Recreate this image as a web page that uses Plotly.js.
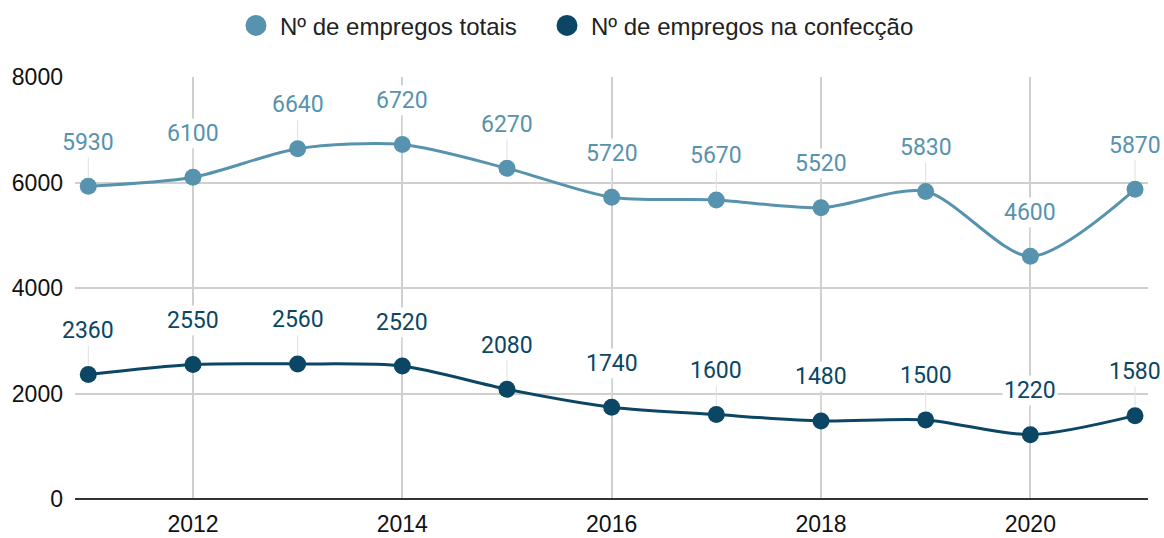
<!DOCTYPE html>
<html><head><meta charset="utf-8">
<script src="https://cdn.plot.ly/plotly-3.0.1.min.js"></script>
<style>html,body{margin:0;padding:0;background:#fff}#chart{width:1164px;height:538px}</style>
</head><body><div id="chart"></div>
<script>
const years = [2011,2012,2013,2014,2015,2016,2017,2018,2019,2020,2021];
const totalJobs = [5930,6100,6640,6720,6270,5720,5670,5520,5830,4600,5870];
const apparelJobs = [2360,2550,2560,2520,2080,1740,1600,1480,1500,1220,1580];
const seriesNames = ['Nº de empregos totais','Nº de empregos na confecção'];
const colors = ['#5793AE','#0B4664'];

const labelFont = 'Roboto, "Open Sans", sans-serif';
const axisFont = '"Liberation Sans", Arial, sans-serif';
const series = [totalJobs, apparelJobs];
const legendIds = ['legend','legend2'];
const data = [];
series.forEach((vals,i)=>{
  data.push({x:years,y:vals,type:'scatter',mode:'lines+markers',name:seriesNames[i],
    showlegend:false,line:{color:colors[i],width:3,shape:'spline',smoothing:0.8},
    marker:{color:colors[i],size:17},hoverinfo:'x+y'});
});
series.forEach((vals,i)=>{
  data.push({x:[null],y:[null],type:'scatter',mode:'markers',name:seriesNames[i],legend:legendIds[i],
    marker:{color:colors[i],size:16,line:{color:colors[i],width:5}}});
});
const annotations = [];
series.forEach((vals,i)=>{
  vals.forEach((v,j)=>{
    annotations.push({x:years[j],y:v,xref:'x',yref:'y',text:String(v),showarrow:true,
      arrowhead:0,arrowwidth:1,arrowcolor:'#e0e0e0',ax:0,ay:-44,standoff:9,
      bgcolor:'rgba(255,255,255,1)',borderpad:1,
      font:{family:labelFont,size:23,color:colors[i]}});
  });
});
const legendBase = {orientation:'h',xanchor:'left',xref:'container',yref:'container',y:0.952,yanchor:'middle',
  font:{family:axisFont,size:24,color:'#222'},itemsizing:'trace',itemwidth:38,bgcolor:'rgba(0,0,0,0)'};
const layout = {
  width:1164,height:538,
  margin:{l:75,r:16,t:77,b:39},
  paper_bgcolor:'#fff',plot_bgcolor:'#fff',
  font:{family:axisFont,size:23,color:'#222'},
  xaxis:{range:[2010.873,2021.124],tick0:2012,dtick:2,showgrid:true,gridcolor:'#cfcfcf',gridwidth:1.5,
    zeroline:false,showline:false,ticks:'',ticklabelstandoff:9,tickfont:{family:axisFont,size:23,color:'#111'}},
  yaxis:{range:[0,8000],dtick:2000,showgrid:true,gridcolor:'#cfcfcf',gridwidth:1.5,
    zeroline:true,zerolinecolor:'#333',zerolinewidth:1.5,showline:false,ticks:'',ticklabelstandoff:11,
    tickfont:{family:axisFont,size:23,color:'#111'}},
  legend:Object.assign({},legendBase,{x:0.1993}),
  legend2:Object.assign({},legendBase,{x:0.4665}),
  annotations:annotations,
  hovermode:'closest'
};
Plotly.newPlot('chart',data,layout,{displayModeBar:false,responsive:false});
</script></body></html>
